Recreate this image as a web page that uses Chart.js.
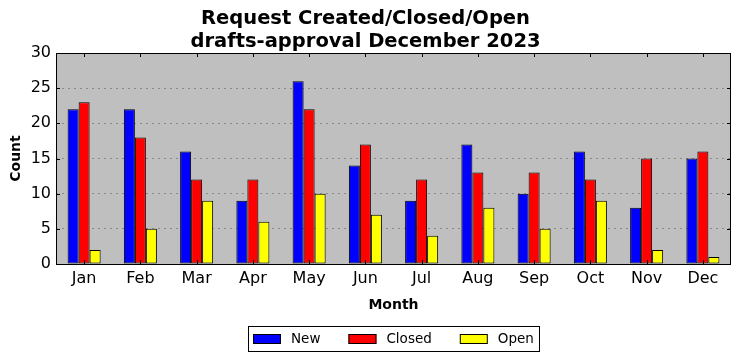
<!DOCTYPE html>
<html>
<head>
<meta charset="utf-8">
<script src="https://cdn.jsdelivr.net/npm/chart.js@4.4.1/dist/chart.umd.min.js"></script>
<style>
  html, body { margin: 0; padding: 0; background: #fff; }
  #wrap { width: 742px; height: 361px; }
</style>
</head>
<body>
<div id="wrap"><canvas id="myChart" width="742" height="361"></canvas></div>
<script>
// datos
var months = ['Jan', 'Feb', 'Mar', 'Apr', 'May', 'Jun', 'Jul', 'Aug', 'Sep', 'Oct', 'Nov', 'Dec'];
var newCounts = [22, 22, 16, 9, 26, 14, 9, 17, 10, 16, 8, 15];
var closedCounts = [23, 18, 12, 12, 22, 17, 12, 13, 13, 12, 15, 16];
var openCounts = [2, 5, 9, 6, 10, 7, 4, 8, 5, 9, 2, 1];
var yTicks = [0, 5, 10, 15, 20, 25, 30];

var FONT = "'DejaVu Sans', sans-serif";

// fondo gris, marco, ticks hacia adentro y leyenda con recuadro
var framePlugin = {
    id: 'frame',
    beforeDraw: function (chart) {
        var a = chart.chartArea, ctx = chart.ctx;
        ctx.save();
        ctx.fillStyle = '#bfbfbf';
        ctx.fillRect(a.left, a.top, a.right - a.left, a.bottom - a.top);
        ctx.restore();
    },
    afterDatasetsDraw: function (chart) {
        var a = chart.chartArea, ctx = chart.ctx;
        var xs = chart.scales.x, ys = chart.scales.y;
        ctx.save();
        ctx.strokeStyle = '#000';
        ctx.lineWidth = 1;
        ctx.beginPath();
        months.forEach(function (m, i) {
            var x = Math.round(xs.getPixelForValue(i)) + 0.5;
            ctx.moveTo(x, a.top); ctx.lineTo(x, a.top + 4);
            ctx.moveTo(x, a.bottom); ctx.lineTo(x, a.bottom - 4);
        });
        yTicks.forEach(function (v) {
            var y = Math.round(ys.getPixelForValue(v)) + 0.5;
            ctx.moveTo(a.left, y); ctx.lineTo(a.left + 4, y);
            ctx.moveTo(a.right, y); ctx.lineTo(a.right - 4, y);
        });
        ctx.stroke();
        ctx.strokeRect(Math.round(a.left) + 0.5, Math.round(a.top) + 0.5,
            Math.round(a.right - a.left) - 1, Math.round(a.bottom - a.top));
        ctx.restore();
    },
    afterDraw: function (chart) {
        var a = chart.chartArea, ctx = chart.ctx;
        var sets = chart.data.datasets;
        ctx.save();
        ctx.font = '13.5px ' + FONT;
        var pad = 5, boxW = 28, boxH = 10, gapText = 10, gapItem = 28;
        var total = pad * 2;
        sets.forEach(function (ds, i) {
            total += boxW + gapText + ctx.measureText(ds.label).width;
            if (i < sets.length - 1) total += gapItem;
        });
        var top = a.bottom + 62, h = 25;
        var left = Math.round((a.left + a.right) / 2 - total / 2);
        ctx.strokeStyle = '#000';
        ctx.lineWidth = 1;
        ctx.strokeRect(left + 0.5, top + 0.5, Math.round(total), h);
        var x = left + pad;
        var cy = top + h / 2 + 0.5;
        sets.forEach(function (ds) {
            ctx.fillStyle = ds.backgroundColor;
            ctx.fillRect(x, Math.round(cy - boxH / 2), boxW, boxH);
            ctx.strokeRect(x + 0.5, Math.round(cy - boxH / 2) + 0.5, boxW - 1, boxH - 1);
            x += boxW + gapText;
            ctx.fillStyle = '#000';
            ctx.textBaseline = 'middle';
            ctx.fillText(ds.label, x, cy);
            x += ctx.measureText(ds.label).width + gapItem;
        });
        ctx.restore();
    }
};

var ctx = document.getElementById('myChart').getContext('2d');
var myChart = new Chart(ctx, {
    type: 'bar',
    data: {
        labels: months,
        datasets: [
            { label: 'New', data: newCounts, backgroundColor: '#0000ff' },
            { label: 'Closed', data: closedCounts, backgroundColor: '#ff0000' },
            { label: 'Open', data: openCounts, backgroundColor: '#ffff00' }
        ]
    },
    options: {
        responsive: false,
        animation: false,
        layout: { padding: { top: 0, right: 11, bottom: 35, left: 0 } },
        datasets: {
            bar: {
                borderColor: '#000',
                borderWidth: 1,
                borderSkipped: false,
                barPercentage: 1,
                categoryPercentage: 0.587
            }
        },
        plugins: {
            title: {
                display: true,
                text: ['Request Created/Closed/Open', 'drafts-approval December 2023'],
                color: '#000',
                font: { family: FONT, size: 19.5, weight: 'bold', lineHeight: '23px' },
                padding: { top: 7, bottom: 0 }
            },
            legend: { display: false },
            tooltip: { enabled: false }
        },
        scales: {
            x: {
                afterFit: function (s) { s.height = 62; },
                grid: { display: false, drawTicks: false },
                border: { display: false },
                ticks: { color: '#000', font: { family: FONT, size: 16 }, padding: 5, maxRotation: 0 },
                title: {
                    display: true, text: 'Month', color: '#000',
                    font: { family: FONT, size: 14, weight: 'bold' }, padding: { top: 4, bottom: 12 }
                }
            },
            y: {
                min: 0,
                max: 30,
                afterFit: function (s) { s.width = 56; },
                afterBuildTicks: function (s) { s.ticks = yTicks.map(function (v) { return { value: v }; }); },
                grid: {
                    drawTicks: false,
                    color: function (c) {
                        return (c.tick && (c.tick.value === 0 || c.tick.value === 30)) ? 'rgba(0,0,0,0)' : '#8a8a8a';
                    },
                    lineWidth: 1
                },
                border: { display: false, dash: [2, 4] },
                ticks: { color: '#000', font: { family: FONT, size: 16 }, padding: 5 },
                title: {
                    display: true, text: 'Count', color: '#000',
                    font: { family: FONT, size: 14, weight: 'bold' }, padding: { top: 8, bottom: 4 }
                }
            }
        }
    },
    plugins: [framePlugin]
});
</script>
</body>
</html>
